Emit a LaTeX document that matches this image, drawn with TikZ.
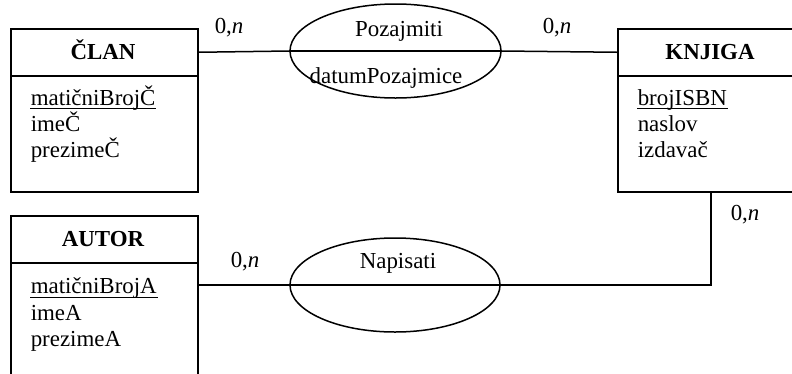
\documentclass[tikz,border=0pt]{standalone}
\usepackage{fontspec}
\setmainfont{Liberation Serif}
\usetikzlibrary{shapes.geometric}
\begin{document}
\begin{tikzpicture}[x=1bp,y=-1bp,line width=1.5bp,
  ent/.style={draw,rectangle,inner sep=0pt,anchor=north west},
  rel/.style={draw,ellipse,inner sep=0pt},
  txt/.style={inner sep=0pt,anchor=base west,font=\fontsize{23}{27}\selectfont},
  ttl/.style={inner sep=0pt,anchor=base,font=\fontsize{23}{27}\selectfont\bfseries},
  card/.style={inner sep=0pt,anchor=base west,font=\fontsize{23}{27}\selectfont},
  key/.style={line width=1.3bp}]
\useasboundingbox (0,0) rectangle (792,373);
% entities
\node[ent,minimum width=187bp,minimum height=47bp] (clanH) at (10,28) {};
\node[ent,minimum width=187bp,minimum height=116bp] (clanB) at (10,75) {};
\node[ttl] (clanT) at (103,59.5) {ČLAN};
\node[txt] (c1) at (30,105) {matičniBrojČ};
\node[txt] (c2) at (30,131) {imeČ};
\node[txt] (c3) at (30,157) {prezimeČ};

\node[ent,minimum width=186bp,minimum height=47bp] (knjH) at (617,28) {};
\node[ent,minimum width=186bp,minimum height=116bp] (knjB) at (617,75) {};
\node[ttl] (knjT) at (710,59.5) {KNJIGA};
\node[txt] (k1) at (637,105) {brojISBN};
\node[txt] (k2) at (637,131) {naslov};
\node[txt] (k3) at (637,157) {izdavač};

\node[ent,minimum width=187bp,minimum height=47bp] (autH) at (10,215) {};
\node[ent,minimum width=187bp,minimum height=140bp] (autB) at (10,262) {};
\node[ttl] (autT) at (103,246.5) {AUTOR};
\node[txt] (a1) at (30,293.5) {matičniBrojA};
\node[txt] (a2) at (30,320.5) {imeA};
\node[txt] (a3) at (30,346.5) {prezimeA};

% underlines of keys
\draw[key] ([yshift=-3.8bp]c1.base west) -- ([yshift=-3.8bp]c1.base east);
\draw[key] ([yshift=-3.8bp]k1.base west) -- ([yshift=-3.8bp]k1.base east);
\draw[key] ([yshift=-3.8bp]a1.base west) -- ([yshift=-3.8bp]a1.base east);

% relationships
\node[rel,minimum width=211bp,minimum height=94bp] (poz) at (395.5,51) {};
\node[txt,anchor=base] (pozT) at (399,36.5) {Pozajmiti};
\node[txt,anchor=base] (pozA) at (386,83) {datumPozajmice};

\node[rel,minimum width=210bp,minimum height=94bp] (nap) at (395,285) {};
\node[txt,anchor=base] (napT) at (398,268) {Napisati};

% connectors
\draw (clanH.east) -- (poz.west);
\draw (poz.west) -- (poz.east);
\draw (poz.east) -- (knjH.west);

\coordinate (napA) at (autB.east |- nap.west);
\coordinate (bend) at (knjB.south |- nap.east);
\draw (napA) -- (nap.west);
\draw (nap.west) -- (nap.east);
\draw (nap.east) -- (bend) -- (knjB.south);

% cardinalities
\node[card] (m1) at (214,33) {0,\textit{n}};
\node[card] (m2) at (542,33) {0,\textit{n}};
\node[card] (m3) at (730,220) {0,\textit{n}};
\node[card] (m4) at (230,267) {0,\textit{n}};
\end{tikzpicture}
\end{document}
